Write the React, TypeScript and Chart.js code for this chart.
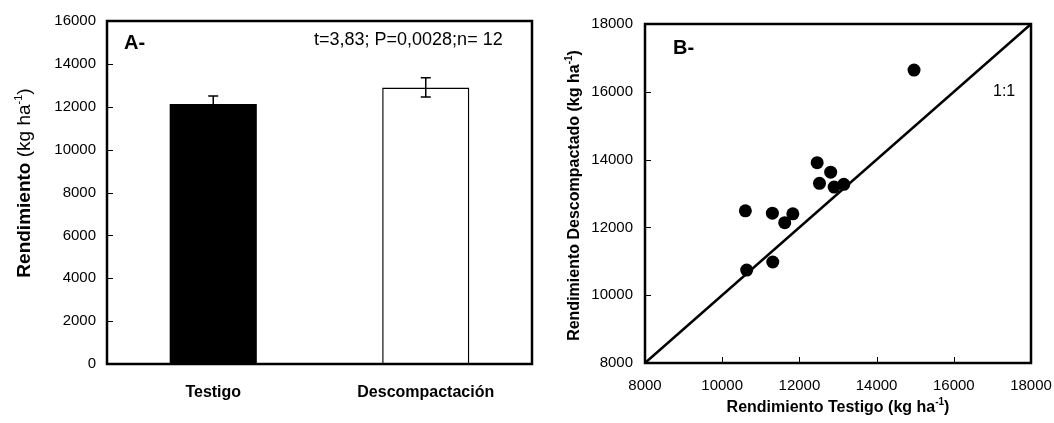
import React, { useEffect, useRef } from 'react';
import { Chart, registerables } from 'chart.js';

Chart.register(...registerables);

// ---------- DATA ----------
const barCategories = ['Testigo', 'Descompactación'];
const barMeans = [12130, 12900];
const barErrors = [370, 450];
const barFill = ['#000000', '#ffffff'];
const barAxisMin = 0;
const barAxisMax = 16000;
const barAxisStep = 2000;

const scatterTestigo = [14970, 12460, 12810, 12520, 12900, 13150, 10600, 11300, 11830, 11620, 11310, 10635];
const scatterDescompactado = [16640, 13910, 13630, 13300, 13190, 13270, 12490, 12420, 12400, 12140, 10980, 10740];
const oneToOne = [8000, 18000];
const scatterAxisMin = 8000;
const scatterAxisMax = 18000;
const scatterAxisStep = 2000;

const FONT = '"Liberation Sans", Arial, Helvetica, sans-serif';

type Part = { t: string; size: number; bold?: boolean; sup?: boolean };

function drawRich(ctx: CanvasRenderingContext2D, parts: Part[], cx: number, cy: number, rotate: boolean) {
  ctx.save();
  ctx.translate(cx, cy);
  if (rotate) ctx.rotate(-Math.PI / 2);
  ctx.fillStyle = '#000';
  ctx.textBaseline = 'middle';
  ctx.textAlign = 'left';
  let total = 0;
  const widths: number[] = [];
  for (const p of parts) {
    ctx.font = `${p.bold ? 'bold ' : ''}${p.size}px ${FONT}`;
    const w = ctx.measureText(p.t).width;
    widths.push(w);
    total += w;
  }
  let x = -total / 2;
  parts.forEach((p, i) => {
    ctx.font = `${p.bold ? 'bold ' : ''}${p.size}px ${FONT}`;
    ctx.fillText(p.t, x, p.sup ? -6 : 0);
    x += widths[i];
  });
  ctx.restore();
}

function drawFrameAndTicks(chart: any, tickX: boolean) {
  const ctx: CanvasRenderingContext2D = chart.ctx;
  const a = chart.chartArea;
  ctx.save();
  ctx.strokeStyle = '#000';
  ctx.lineWidth = 1;
  const ys = chart.scales.y;
  ys.ticks.forEach((t: any) => {
    const y = Math.round(ys.getPixelForValue(t.value)) + 0.5;
    ctx.beginPath();
    ctx.moveTo(a.left, y);
    ctx.lineTo(a.left + 6, y);
    ctx.stroke();
  });
  if (tickX) {
    const xs = chart.scales.x;
    xs.ticks.forEach((t: any) => {
      const x = Math.round(xs.getPixelForValue(t.value)) + 0.5;
      ctx.beginPath();
      ctx.moveTo(x, a.bottom);
      ctx.lineTo(x, a.bottom - 6);
      ctx.stroke();
    });
  }
  ctx.lineWidth = 2.5;
  ctx.strokeRect(a.left, a.top, a.right - a.left, a.bottom - a.top);
  ctx.restore();
}

const errorBarPlugin = {
  id: 'errorBars',
  afterDatasetsDraw(chart: any) {
    const ctx: CanvasRenderingContext2D = chart.ctx;
    const meta = chart.getDatasetMeta(0);
    const ys = chart.scales.y;
    ctx.save();
    ctx.strokeStyle = '#000';
    ctx.lineWidth = 1.5;
    meta.data.forEach((el: any, i: number) => {
      const x = el.x;
      const top = ys.getPixelForValue(barMeans[i] + barErrors[i]);
      const bot = ys.getPixelForValue(barMeans[i] - barErrors[i]);
      const cap = 5;
      ctx.beginPath();
      ctx.moveTo(x, top);
      ctx.lineTo(x, bot);
      ctx.moveTo(x - cap, top);
      ctx.lineTo(x + cap, top);
      ctx.moveTo(x - cap, bot);
      ctx.lineTo(x + cap, bot);
      ctx.stroke();
    });
    ctx.restore();
  },
};

const barDecorPlugin = {
  id: 'barDecor',
  afterDraw(chart: any) {
    const ctx: CanvasRenderingContext2D = chart.ctx;
    drawFrameAndTicks(chart, false);
    const a = chart.chartArea;
    ctx.save();
    ctx.fillStyle = '#000';
    ctx.textBaseline = 'middle';
    ctx.textAlign = 'left';
    ctx.font = `bold 20px ${FONT}`;
    ctx.fillText('A-', a.left + 17, a.top + 22);
    ctx.font = `18px ${FONT}`;
    ctx.fillText('t=3,83; P=0,0028;n= 12', a.left + 207, a.top + 19);
    ctx.restore();
    drawRich(ctx, [
      { t: 'Rendimiento', size: 19, bold: true },
      { t: ' (kg ha', size: 19 },
      { t: '-1', size: 11, sup: true },
      { t: ')', size: 19 },
    ], 25, 183, true);
  },
};

const scatterDecorPlugin = {
  id: 'scatterDecor',
  afterDraw(chart: any) {
    const ctx: CanvasRenderingContext2D = chart.ctx;
    drawFrameAndTicks(chart, true);
    const a = chart.chartArea;
    ctx.save();
    ctx.fillStyle = '#000';
    ctx.textBaseline = 'middle';
    ctx.textAlign = 'left';
    ctx.font = `bold 20px ${FONT}`;
    ctx.fillText('B-', a.left + 28, a.top + 24);
    ctx.font = `16px ${FONT}`;
    ctx.fillText('1:1', a.left + 348, a.top + 68);
    ctx.restore();
    const cx = (a.left + a.right) / 2;
    drawRich(ctx, [
      { t: 'Rendimiento Testigo (kg ha', size: 16, bold: true },
      { t: '-1', size: 10, bold: true, sup: true },
      { t: ')', size: 16, bold: true },
    ], cx, 408, false);
    drawRich(ctx, [
      { t: 'Rendimiento Descompactado (kg ha', size: 16, bold: true },
      { t: '-1', size: 10, bold: true, sup: true },
      { t: ')', size: 16, bold: true },
    ], 35, (a.top + a.bottom) / 2 + 2, true);
  },
};

const plain = (v: any) => String(v);

export default function App() {
  const refA = useRef<HTMLCanvasElement>(null);
  const refB = useRef<HTMLCanvasElement>(null);

  useEffect(() => {
    const chartA = new Chart(refA.current as HTMLCanvasElement, {
      type: 'bar',
      data: {
        labels: barCategories,
        datasets: [
          {
            data: barMeans,
            backgroundColor: barFill,
            borderColor: '#000',
            borderWidth: [0, 1.5],
            categoryPercentage: 1,
            barPercentage: 0.41,
          } as any,
        ],
      },
      options: {
        responsive: false,
        animation: false,
        devicePixelRatio: 1,
        layout: { padding: { top: 21, right: 8, left: 0, bottom: 0 } },
        plugins: { legend: { display: false }, tooltip: { enabled: false } },
        scales: {
          x: {
            grid: { display: false, drawTicks: false },
            border: { display: false },
            ticks: { color: '#000', font: { family: FONT, size: 16, weight: 'bold' }, padding: 19 },
            afterFit: (s: any) => { s.height = 59; s.paddingLeft = 0; s.paddingRight = 0; },
          },
          y: {
            min: barAxisMin,
            max: barAxisMax,
            grid: { display: false, drawTicks: false },
            border: { display: false },
            ticks: { stepSize: barAxisStep, color: '#000', font: { family: FONT, size: 15 }, padding: 11, callback: plain },
            afterFit: (s: any) => { s.width = 107; s.paddingTop = 0; s.paddingBottom = 0; },
          },
        },
      } as any,
      plugins: [errorBarPlugin, barDecorPlugin],
    });

    const points = scatterTestigo.map((x, i) => ({ x, y: scatterDescompactado[i] }));
    const chartB = new Chart(refB.current as HTMLCanvasElement, {
      type: 'scatter',
      data: {
        datasets: [
          {
            data: oneToOne.map((v) => ({ x: v, y: v })),
            showLine: true,
            borderColor: '#000',
            borderWidth: 2.5,
            pointRadius: 0,
          } as any,
          {
            data: points,
            backgroundColor: '#000',
            borderWidth: 0,
            pointRadius: 6.5,
          },
        ],
      },
      options: {
        responsive: false,
        animation: false,
        devicePixelRatio: 1,
        layout: { padding: { top: 24, right: 23, left: 0, bottom: 0 } },
        plugins: { legend: { display: false }, tooltip: { enabled: false } },
        scales: {
          x: {
            type: 'linear',
            min: scatterAxisMin,
            max: scatterAxisMax,
            grid: { display: false, drawTicks: false },
            border: { display: false },
            ticks: { stepSize: scatterAxisStep, color: '#000', font: { family: FONT, size: 15 }, padding: 14, callback: plain },
            afterFit: (s: any) => { s.height = 60; s.paddingLeft = 0; s.paddingRight = 0; },
          },
          y: {
            type: 'linear',
            min: scatterAxisMin,
            max: scatterAxisMax,
            grid: { display: false, drawTicks: false },
            border: { display: false },
            ticks: { stepSize: scatterAxisStep, color: '#000', font: { family: FONT, size: 15 }, padding: 12, callback: plain },
            afterFit: (s: any) => { s.width = 105; s.paddingTop = 0; s.paddingBottom = 0; },
          },
        },
      } as any,
      plugins: [scatterDecorPlugin],
    });

    return () => {
      chartA.destroy();
      chartB.destroy();
    };
  }, []);

  return (
    <div style={{ position: 'absolute', left: 0, top: 0, width: 1054, height: 423, background: '#fff' }}>
      <canvas ref={refA} width={540} height={423} style={{ position: 'absolute', left: 0, top: 0 }} />
      <canvas ref={refB} width={514} height={423} style={{ position: 'absolute', left: 540, top: 0 }} />
    </div>
  );
}
